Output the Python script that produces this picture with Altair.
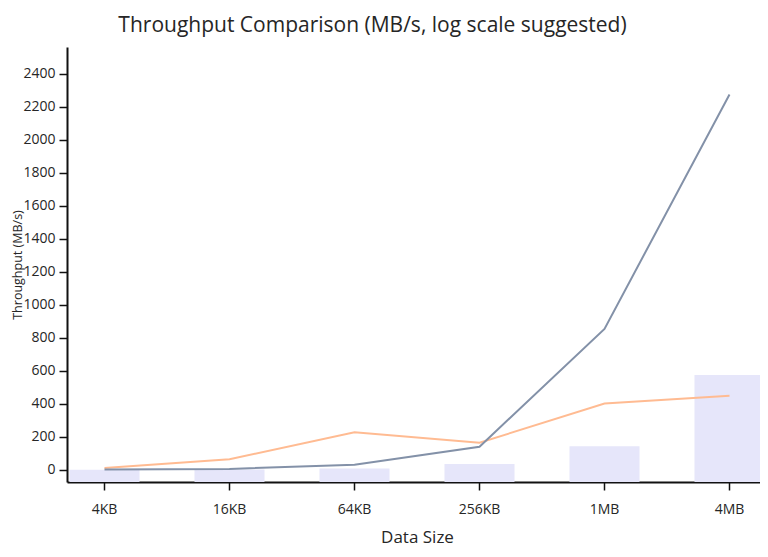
import altair as alt
import pandas as pd

sizes = ["4KB", "16KB", "64KB", "256KB", "1MB", "4MB"]
series_a = [2, 6, 32, 141, 855, 2275]      # slate line
series_b = [12, 65, 228, 165, 402, 450]    # peach line
bar_vals = [1, 2, 9, 36, 144, 576]         # lavender bars
y_ticks = [0, 200, 400, 600, 800, 1000, 1200, 1400, 1600, 1800, 2000, 2200, 2400]
y_min, y_max = -73, 2563

df = pd.DataFrame({"size": sizes, "A": series_a, "B": series_b, "C": bar_vals})

FONT = "Open Sans"
TXT = "#262626"

yscale = alt.Scale(domain=[y_min, y_max], nice=False, zero=False)
x = alt.X(
    "size:N", sort=sizes,
    scale=alt.Scale(paddingInner=0.44, paddingOuter=0.02, range=[0, 700]),
    axis=alt.Axis(title="Data Size", labelAngle=0, tickSize=8, labelPadding=12,
                  titlePadding=13, labelFontSize=14, titleFontSize=17),
)
yaxis = alt.Axis(title="Throughput (MB/s)", values=y_ticks, format="d", tickSize=8,
                 labelPadding=4, labelFontSize=14, titleFontSize=12.5, grid=False,
                 titleX=-46, titleBaseline="alphabetic")

bars = alt.Chart(df).mark_bar(color="#e6e6fa").encode(
    x=x,
    y=alt.Y("C:Q", scale=yscale, axis=yaxis),
    y2=alt.datum(y_min),
)
line_b = alt.Chart(df).mark_line(color="#ffbb92", strokeWidth=2).encode(
    x=x, y=alt.Y("B:Q", scale=yscale, axis=yaxis)
)
line_a = alt.Chart(df).mark_line(color="#8391a8", strokeWidth=2).encode(
    x=x, y=alt.Y("A:Q", scale=yscale, axis=yaxis)
)

chart = alt.layer(bars, line_b, line_a).properties(
    width=693, height=435,
    title=alt.TitleParams("Throughput Comparison (MB/s, log scale suggested)",
                          fontSize=21, font=FONT, color=TXT, fontWeight="normal",
                          dx=-41, offset=11),
    autosize=alt.AutoSizeParams(type="none"),
    padding={"left": 59, "top": 39, "right": 0, "bottom": 67},
).configure_view(stroke=None).configure_axis(
    labelFont=FONT, titleFont=FONT, labelColor=TXT, titleColor=TXT,
    titleFontWeight="normal", domainColor="#111111", domainWidth=2,
    tickColor="#111111", tickWidth=1.5,
)

chart.save("out.html", embed_options={"renderer": "svg", "actions": False})
